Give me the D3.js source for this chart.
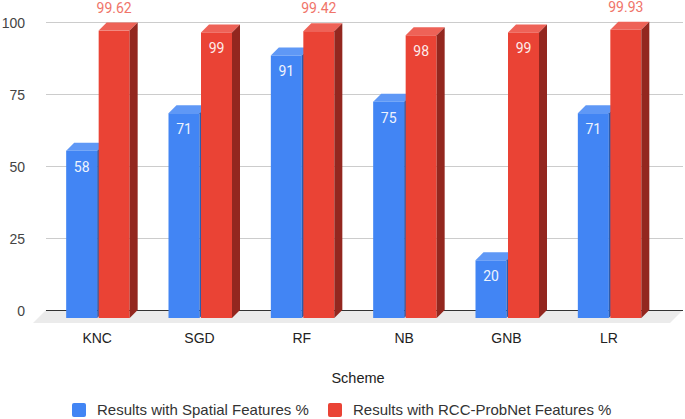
<!DOCTYPE html>
<html>
<head>
<meta charset="utf-8">
<script src="https://cdn.jsdelivr.net/npm/d3@7"></script>
<style>
  body { margin: 0; background: #fff; }
  svg { display: block; }
</style>
</head>
<body>
<svg id="canvas"></svg>
<script>
let schemes = ['KNC', 'SGD', 'RF', 'NB', 'GNB', 'LR'];
let spatialValues = [58, 71, 91, 75, 20, 71];
let probNetValues = [99.62, 99, 99.42, 98, 99, 99.93];
let yTicks = [0, 25, 50, 75, 100];
let seriesNames = ['Results with Spatial Features %', 'Results with RCC-ProbNet Features %'];

let width = 685;
let height = 419;
let depthX = 8;
let depthY = 8;
let barWidth = 31;
let baseY = 318;

let canvas = d3.select('#canvas').attr('width', width).attr('height', height);

let xScale = d3.scaleBand().domain(schemes).range([46, 660]).padding(0);
let yScale = d3.scaleLinear().domain([0, 100]).range([baseY, 29.5]);

let colors = [
	{ front: '#4285f4', top: '#5f98f6', side: '#2c5cad', inside: '#eef3fd', outside: '#4285f4' },
	{ front: '#ea4335', top: '#ee6257', side: '#93271f', inside: '#fdeceb', outside: '#f07469' }
];

// floor
canvas.append('polygon')
	.attr('points', [[46, 310], [683, 310], [670, 323], [33, 323]].map(p => p.join(',')).join(' '))
	.attr('fill', '#ebebeb');

// gridlines on the back wall
canvas.append('g').selectAll('line')
	.data(yTicks)
	.join('line')
	.attr('x1', 46)
	.attr('x2', 683)
	.attr('y1', d => Math.round(yScale(d) - depthY) + 0.5)
	.attr('y2', d => Math.round(yScale(d) - depthY) + 0.5)
	.attr('stroke', d => d === 0 ? '#333' : '#cccccc')
	.attr('stroke-width', 1);

// y labels
canvas.append('g').selectAll('text')
	.data(yTicks)
	.join('text')
	.attr('x', 25)
	.attr('y', d => yScale(d) - depthY + 6)
	.attr('text-anchor', 'end')
	.attr('font-family', 'Liberation Sans, Arial, sans-serif')
	.attr('font-size', 14)
	.attr('fill', '#444')
	.text(d => d);

let drawBar = (g, x, v, c) => {
	let yt = yScale(v);
	g.append('rect')
		.attr('x', x).attr('y', yt)
		.attr('width', barWidth).attr('height', baseY - yt)
		.attr('fill', c.front);
	g.append('polygon')
		.attr('points', [[x, yt], [x + depthX, yt - depthY], [x + barWidth + depthX, yt - depthY], [x + barWidth, yt]].map(p => p.join(',')).join(' '))
		.attr('fill', c.top);
	g.append('polygon')
		.attr('points', [[x + barWidth, yt], [x + barWidth + depthX, yt - depthY], [x + barWidth + depthX, baseY - depthY], [x + barWidth, baseY]].map(p => p.join(',')).join(' '))
		.attr('fill', c.side);
};

// whole numbers sit inside the bar, decimals go above it
let drawLabel = (g, x, v, c) => {
	let yt = yScale(v);
	let txt = String(v);
	let inside = !txt.includes('.');
	g.append('text')
		.attr('x', x + barWidth / 2)
		.attr('y', inside ? yt + 21 : yt - depthY - 10)
		.attr('text-anchor', 'middle')
		.attr('font-family', 'Roboto, sans-serif')
		.attr('font-size', 14)
		.attr('fill', inside ? c.inside : c.outside)
		.text(txt);
};

let bars = canvas.append('g');
schemes.forEach((s, i) => {
	let cx = xScale(s) + xScale.bandwidth() / 2;
	let g = bars.append('g');
	drawBar(g, cx - barWidth, spatialValues[i], colors[0]);
	drawBar(g, cx + 1.5, probNetValues[i], colors[1]);
	drawLabel(g, cx - barWidth, spatialValues[i], colors[0]);
	drawLabel(g, cx + 1.5, probNetValues[i], colors[1]);
});

// x labels
canvas.append('g').selectAll('text')
	.data(schemes)
	.join('text')
	.attr('x', d => xScale(d) + xScale.bandwidth() / 2)
	.attr('y', 343)
	.attr('text-anchor', 'middle')
	.attr('font-family', 'Liberation Sans, Arial, sans-serif')
	.attr('font-size', 14)
	.attr('fill', '#222')
	.text(d => d);

canvas.append('text')
	.attr('x', 358)
	.attr('y', 383)
	.attr('text-anchor', 'middle')
	.attr('font-family', 'Liberation Sans, Arial, sans-serif')
	.attr('font-size', 14.5)
	.attr('fill', '#222')
	.text('Scheme');

// legend
let legendX = [72, 328];
seriesNames.forEach((name, i) => {
	canvas.append('rect')
		.attr('x', legendX[i]).attr('y', 403)
		.attr('width', 14).attr('height', 14)
		.attr('rx', 2)
		.attr('fill', colors[i].front);
	canvas.append('text')
		.attr('x', legendX[i] + 25)
		.attr('y', 415)
		.attr('font-family', 'Liberation Sans, Arial, sans-serif')
		.attr('font-size', 15)
		.attr('fill', '#333')
		.text(name);
});
</script>
</body>
</html>
